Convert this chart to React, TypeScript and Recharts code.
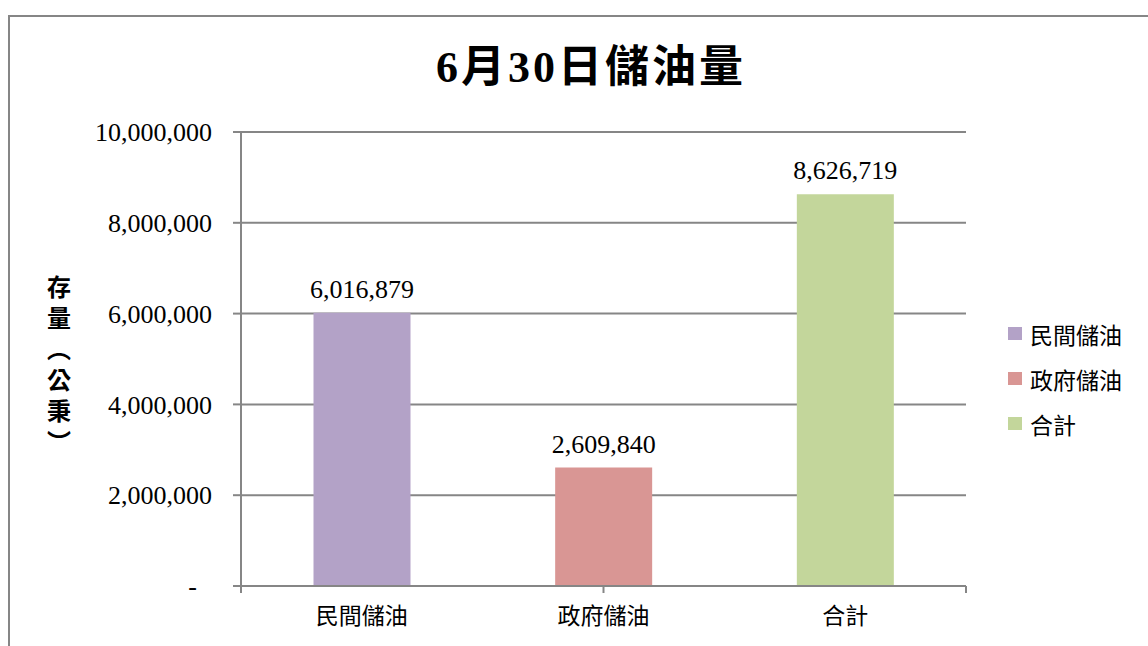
import { Bar, BarChart, CartesianGrid, Cell, LabelList, Legend, XAxis, YAxis } from 'recharts';

const categories = ['民間儲油', '政府儲油', '合計'];
const values = [6016879, 2609840, 8626719];
const colors = ['#B3A2C7', '#D99694', '#C3D69B'];
const yTicks = [0, 2000000, 4000000, 6000000, 8000000, 10000000];
const boundaryTicks = [0, 1, 2, 3];
const yTitle = '存量（公秉）';

const chartData = categories.map((name, i) => ({ name, value: values[i] }));

const SERIF = '"Liberation Serif", "Times New Roman", serif';
const CJK = '"Noto Sans CJK TC", "Noto Sans CJK SC", sans-serif';
const GRID = '#868686';

const fmt = (v: number) => (v === 0 ? '-' : v.toLocaleString('en-US'));

// Excel puts the zero dash a bit left of the other labels
const YTick = ({ x, y, payload }: any) => (
  <text
    x={payload.value === 0 ? x - 15 : x}
    y={y}
    dy="0.35em"
    textAnchor="end"
    fontFamily={SERIF}
    fontSize={26}
    fill="#000"
  >
    {fmt(payload.value)}
  </text>
);

// vertical axis title, set in vertical writing mode so the brackets turn
const YLabel = () => (
  <text
    x={59}
    y={275}
    fontFamily={CJK}
    fontWeight="bold"
    fontSize={24}
    fill="#000"
    style={{ writingMode: 'vertical-rl', letterSpacing: 7 }}
  >
    {yTitle}
  </text>
);

const LegendBox = () => (
  <div style={{ fontFamily: CJK, fontSize: 23, color: '#000' }}>
    {categories.map((c, i) => (
      <div key={c} style={{ display: 'flex', alignItems: 'center', height: 45 }}>
        <span style={{ width: 14, height: 13, background: colors[i], marginRight: 8, display: 'inline-block' }} />
        <span>{c}</span>
      </div>
    ))}
  </div>
);

const App = () => {
  return (
    <div
      style={{
        position: 'fixed',
        left: 0,
        top: 0,
        width: 1148,
        height: 646,
        overflow: 'hidden',
        background: '#fff',
      }}
    >
      <div
        style={{
          position: 'absolute',
          left: 8,
          top: 15,
          width: 1200,
          height: 700,
          border: `2px solid ${GRID}`,
        }}
      />
      <div
        style={{
          position: 'absolute',
          left: 391,
          width: 400,
          top: 46,
          textAlign: 'center',
          fontFamily: `"Liberation Serif", ${CJK}`,
          fontWeight: 'bold',
          fontSize: 44,
          lineHeight: '44px',
          letterSpacing: 3,
          color: '#000',
        }}
      >
        6月30日儲油量
      </div>
      <div style={{ position: 'absolute', left: 0, top: 0 }}>
        <BarChart
          width={1148}
          height={646}
          data={chartData}
          barCategoryGap="30%"
          margin={{ top: 132, right: 182, bottom: 0, left: 0 }}
        >
          <CartesianGrid vertical={false} stroke={GRID} strokeWidth={2} />
          <XAxis
            xAxisId={0}
            type="number"
            domain={[0, 3]}
            ticks={boundaryTicks}
            allowDataOverflow
            height={10}
            tick={() => null}
            tickSize={7}
            axisLine={{ stroke: GRID, strokeWidth: 2 }}
            tickLine={{ stroke: GRID, strokeWidth: 2 }}
          />
          <XAxis
            xAxisId="cat"
            dataKey="name"
            height={50}
            axisLine={false}
            tickLine={false}
            tickSize={0}
            tickMargin={12}
            tick={{ fontFamily: CJK, fontSize: 23, fill: '#000' }}
            interval={0}
          />
          <YAxis
            width={241}
            domain={[0, 10000000]}
            ticks={yTicks}
            tickSize={8}
            tickMargin={21}
            tick={<YTick />}
            axisLine={{ stroke: GRID, strokeWidth: 2 }}
            tickLine={{ stroke: GRID, strokeWidth: 2 }}
            label={<YLabel />}
          />
          <Legend
            layout="horizontal"
            verticalAlign="middle"
            align="center"
            content={<LegendBox />}
            wrapperStyle={{ left: 1008, top: 311, width: 140 }}
          />
          <Bar xAxisId="cat" dataKey="value" isAnimationActive={false}>
            {chartData.map((d, i) => (
              <Cell key={d.name} fill={colors[i]} />
            ))}
            <LabelList
              dataKey="value"
              position="top"
              offset={15}
              formatter={(v: any) => Number(v).toLocaleString('en-US')}
              fill="#000"
              fontFamily={SERIF}
              fontSize={26}
            />
          </Bar>
        </BarChart>
      </div>
    </div>
  );
};

export default App;
